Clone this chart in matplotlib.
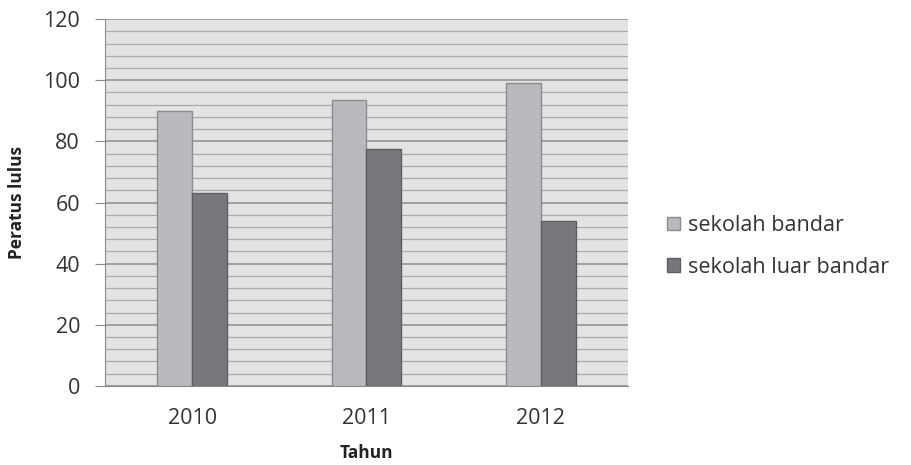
import matplotlib.pyplot as plt
import numpy as np

years = ['2010', '2011', '2012']
bandar = [90, 93.5, 99]
luar_bandar = [63, 77.5, 54]
series_names = ['sekolah bandar', 'sekolah luar bandar']

plt.rcParams['font.family'] = ['Open Sans', 'DejaVu Sans']

fig = plt.figure(figsize=(9.11, 4.65), dpi=100)
ax = fig.add_axes([0.1153, 0.170, 0.574, 0.789])

x = np.arange(len(years))
w = 0.2
b1 = ax.bar(x - w / 2, bandar, w, color='#b9babd', edgecolor='#8c8c8e', linewidth=1, label=series_names[0], zorder=3)
b2 = ax.bar(x + w / 2, luar_bandar, w, color='#77787b', edgecolor='#5e5f62', linewidth=1, label=series_names[1], zorder=3)

ax.set_xlim(-0.5, 2.5)
ax.set_ylim(0, 120)
ax.set_facecolor('#e3e3e4')
ax.set_yticks(np.arange(0, 121, 20))
ax.set_yticks(np.arange(0, 121, 4), minor=True)
ax.grid(axis='y', which='major', color='#8e8e90', linewidth=1.1, zorder=1)
ax.grid(axis='y', which='minor', color='#a9a9ab', linewidth=0.9, zorder=1)
ax.set_xticks(x)
ax.set_xticklabels(years)

for s in ['top', 'right']:
    ax.spines[s].set_visible(False)
ax.spines['left'].set_color('#8a8a8a')
ax.spines['bottom'].set_color('#8a8a8a')
ax.tick_params(axis='y', which='major', length=7, color='#8a8a8a', labelsize=15.5, labelcolor='#333333', pad=11)
ax.tick_params(axis='y', which='minor', length=0)
ax.tick_params(axis='x', length=0, labelsize=15.5, labelcolor='#333333', pad=16)

ax.set_ylabel('Peratus lulus', fontsize=12.5, fontweight='bold', color='#222222', labelpad=12)
ax.set_xlabel('Tahun', fontsize=12.5, fontweight='bold', color='#222222', labelpad=11)

fig.legend(handles=[b1, b2], loc='center left', bbox_to_anchor=(0.711, 0.47), frameon=False,
           fontsize=15.5, handlelength=0.6, handleheight=0.6, handletextpad=0.35, labelspacing=0.95,
           labelcolor='#333333')

fig.savefig('out.png', dpi=100)
